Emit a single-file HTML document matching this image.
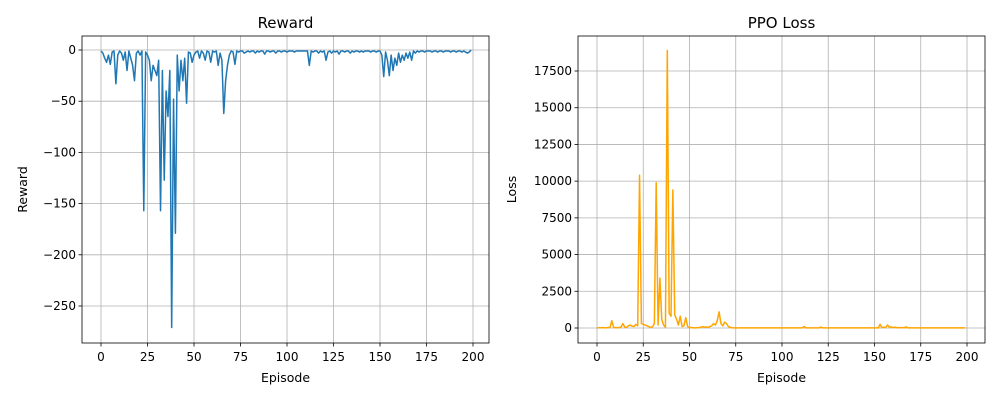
<!DOCTYPE html>
<html><head><meta charset="utf-8"><style>
body{margin:0;background:#fff;font-family:"Liberation Sans","DejaVu Sans",sans-serif}
svg text{font-family:"DejaVu Sans","Liberation Sans",sans-serif}
</style></head><body>
<svg id="fig" width="1000" height="400" viewBox="0 0 1000 400"></svg>
<script>
const episodes = Array.from({length:200},(_,i)=>i);
const rewardValues = [-1,-3,-8,-12,-5,-14,-2,-1,-33,-5,
-1,-3,-10,-2,-20,-1,-8,-15,-30,-3,
-1,-5,-1,-157,-2,-5,-10,-30,-15,-20,
-25,-10,-157,-20,-127,-40,-65,-20,-271,-48,
-179,-5,-40,-10,-30,-8,-52,-2,-3,-12,
-5,-2,-1,-8,-1,-3,-10,-1,-2,-12,
-1,-2,-1,-15,-3,-10,-62,-30,-15,-5,
-1,-2,-14,-1,-2,-1,-1,-3,-2,-1,
-2,-1,-1,-3,-1,-2,-1,-1,-4,-1,
-1,-2,-1,-1,-3,-1,-1,-2,-1,-1,
-2,-1,-1,-1,-2,-1,-1,-1,-1,-1,
-1,-1,-15,-1,-2,-1,-1,-3,-1,-2,
-1,-10,-2,-1,-3,-1,-2,-1,-4,-1,
-1,-2,-1,-1,-3,-1,-2,-1,-1,-2,
-1,-2,-1,-1,-1,-2,-1,-1,-2,-1,
-1,-5,-26,-2,-10,-25,-5,-20,-8,-15,
-3,-12,-5,-10,-3,-8,-2,-10,-1,-3,
-1,-2,-1,-1,-2,-1,-1,-1,-2,-1,
-1,-2,-1,-1,-2,-1,-1,-1,-2,-1,
-1,-2,-1,-1,-2,-1,-2,-3,-2,0];
const lossValues = [10,20,15,30,20,10,40,30,500,40,
20,30,20,80,300,60,40,150,200,120,
100,250,150,10400,300,250,200,150,100,50,
80,300,9900,200,3400,600,200,50,18900,1000,
800,9400,900,600,200,800,100,150,700,100,
20,30,20,10,20,30,50,100,60,80,
30,100,150,300,200,500,1100,300,150,400,
300,100,50,20,10,10,10,10,10,10,
10,10,10,10,10,10,10,10,10,10,
10,10,10,10,10,10,10,10,10,10,
10,10,10,10,10,10,10,10,10,10,
10,10,100,10,10,10,10,10,10,10,
10,60,10,10,10,10,10,10,10,10,
10,10,10,10,10,10,10,10,10,10,
10,10,10,10,10,10,10,10,10,10,
10,10,10,250,20,60,30,200,60,80,
20,60,20,30,20,30,10,80,10,20,
10,10,10,10,10,10,10,10,10,10,
10,10,10,10,10,10,10,10,10,10,
10,10,10,10,10,10,10,10,10,10];
const xTicks = [0,25,50,75,100,125,150,175,200];
const rewardTicks = [0,-50,-100,-150,-200,-250];
const lossTicks = [0,2500,5000,7500,10000,12500,15000,17500];

const NS="http://www.w3.org/2000/svg";
const svg=document.getElementById('fig');
function mk(tag,attrs,parent){const e=document.createElementNS(NS,tag);for(const k in attrs)e.setAttribute(k,attrs[k]);(parent||svg).appendChild(e);return e;}

function panel(o){
  const g=mk('g',{});
  
  
  const L=o.left,R=o.left+407,T=36,B=343;
  const xs=v=>o.x0+v*(o.x200-o.x0)/200;
  const ys=v=>o.yZero+v*o.yScale;
  xTicks.forEach(t=>{const l=mk('line',{x1:xs(t),x2:xs(t),y1:T,y2:B,stroke:'#b0b0b0','stroke-width':0.8},g);
    });
  o.yTicks.forEach(t=>{const l=mk('line',{x1:L,x2:R,y1:ys(t),y2:ys(t),stroke:'#b0b0b0','stroke-width':0.8},g);
    });
  const d=o.values.map((v,i)=>(i?'L':'M')+xs(episodes[i]).toFixed(2)+','+ys(v).toFixed(2)).join('');
  const p=mk('path',{d:d,fill:'none',stroke:o.color,'stroke-width':1.5,'stroke-linejoin':'round'},g);
  
  const f=mk('rect',{x:L,y:T,width:R-L,height:B-T,fill:'none',stroke:'#000','stroke-width':0.8},g);
  
  xTicks.forEach(t=>{mk('line',{x1:xs(t),x2:xs(t),y1:B,y2:B+3.5,stroke:'#000','stroke-width':0.8},g);
    const tx=mk('text',{x:xs(t),y:B+18,'font-size':12,'text-anchor':'middle'},g);tx.textContent=t;
    });
  o.yTicks.forEach(t=>{mk('line',{x1:L-3.5,x2:L,y1:ys(t),y2:ys(t),stroke:'#000','stroke-width':0.8},g);
    const tx=mk('text',{x:L-6,y:ys(t)+4,'font-size':12,'text-anchor':'end'},g);tx.textContent=(t<0?'\u2212'+(-t):t);
    });
  const ti=mk('text',{x:(L+R)/2,y:T-8,'font-size':15,'text-anchor':'middle'},g);ti.textContent=o.title;
  
  const xl=mk('text',{x:(L+R)/2,y:382,'font-size':12.5,'text-anchor':'middle'},g);xl.textContent='Episode';
  
  const yl=mk('text',{x:0,y:0,'font-size':12.5,'text-anchor':'middle',transform:`translate(${o.yLabelX},${(T+B)/2}) rotate(-90)`},g);yl.textContent=o.yLabel;
  
}
panel({name:'reward-chart',seriesName:'reward-line',left:82,x0:101,x200:473,yZero:50,yScale:(306-50)/-250*-1*-1,yTicks:rewardTicks,values:rewardValues,color:'#1f77b4',title:'Reward',yLabel:'Reward',yLabelX:27});
panel({name:'loss-chart',seriesName:'loss-line',left:578,x0:597,x200:967,yZero:328,yScale:-(328-71)/17500,yTicks:lossTicks,values:lossValues,color:'#ffa500',title:'PPO Loss',yLabel:'Loss',yLabelX:516});
</script>
</body></html>
